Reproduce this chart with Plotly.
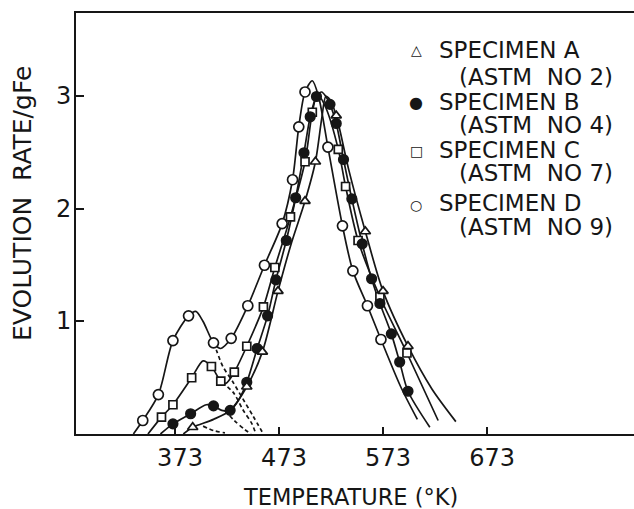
import plotly.graph_objects as go

# ---------------- data (temperature in K, evolution rate per g Fe) ----------------
# Specimen A (ASTM No 2) - open triangles
a_T = [390, 442, 457, 472, 498, 508, 528, 556, 573, 597]
a_rate = [0.06, 0.42, 0.73, 1.27, 2.07, 2.42, 2.83, 1.80, 1.27, 0.78]
a_curve_T = [381, 390, 410, 426, 442, 457, 472, 485, 498, 508, 514, 518, 522, 528, 540, 556, 573, 597, 620, 643]
a_curve_rate = [0.0, 0.06, 0.13, 0.21, 0.42, 0.73, 1.27, 1.70, 2.07, 2.42, 2.80, 3.00, 2.97, 2.83, 2.35, 1.80, 1.27, 0.78, 0.40, 0.11]
a_dash_T = [400, 410, 421]
a_dash_rate = [0.07, 0.03, 0.01]

# Specimen B (ASTM No 4) - filled circles
b_T = [371, 388, 410, 426, 442, 452, 462, 470, 480, 489, 497, 503, 509, 522, 528, 535, 543, 553, 562, 570, 581, 589, 597]
b_rate = [0.09, 0.18, 0.25, 0.21, 0.46, 0.76, 1.05, 1.37, 1.72, 2.10, 2.50, 2.82, 3.00, 2.93, 2.76, 2.44, 2.09, 1.69, 1.38, 1.16, 0.89, 0.64, 0.38]
b_curve_T = [359, 371, 388, 403, 410, 418, 426, 434, 442, 452, 462, 470, 480, 489, 497, 503, 509, 514, 518, 522, 528, 535, 543, 553, 562, 570, 581, 589, 597, 618]
b_curve_rate = [0.0, 0.09, 0.18, 0.26, 0.25, 0.21, 0.21, 0.30, 0.46, 0.76, 1.05, 1.37, 1.72, 2.10, 2.50, 2.82, 3.00, 3.04, 3.00, 2.93, 2.76, 2.44, 2.09, 1.69, 1.38, 1.16, 0.89, 0.64, 0.38, 0.06]
b_dash_T = [421, 430, 440, 446]
b_dash_rate = [0.21, 0.12, 0.04, 0.0]

# Specimen C (ASTM No 7) - open squares
c_T = [360, 371, 389, 408, 417, 430, 442, 458, 469, 484, 498, 505, 530, 537, 549, 570, 596]
c_rate = [0.15, 0.26, 0.50, 0.60, 0.47, 0.55, 0.78, 1.13, 1.48, 1.93, 2.42, 2.86, 2.53, 2.20, 1.72, 1.22, 0.72]
c_curve_T = [347, 360, 371, 389, 400, 408, 417, 422, 430, 442, 458, 469, 484, 498, 505, 510, 518, 530, 537, 549, 570, 596, 626]
c_curve_rate = [0.0, 0.15, 0.26, 0.50, 0.65, 0.60, 0.47, 0.45, 0.55, 0.78, 1.13, 1.48, 1.93, 2.42, 2.86, 3.02, 2.90, 2.53, 2.20, 1.72, 1.22, 0.72, 0.12]
c_dash_T = [418, 429, 438, 447, 450]
c_dash_rate = [0.46, 0.37, 0.22, 0.09, 0.02]

# Specimen D (ASTM No 9) - open circles
d_T = [342, 357, 371, 386, 410, 427, 443, 459, 476, 486, 492, 498, 520, 534, 544, 558, 571]
d_rate = [0.12, 0.35, 0.83, 1.05, 0.81, 0.85, 1.14, 1.50, 1.87, 2.26, 2.73, 3.04, 2.55, 1.85, 1.45, 1.14, 0.84]
d_curve_T = [333, 342, 357, 371, 386, 393, 400, 410, 417, 427, 443, 459, 476, 486, 492, 498, 505, 511, 520, 534, 544, 558, 571, 590, 606]
d_curve_rate = [0.0, 0.12, 0.35, 0.83, 1.05, 1.09, 1.00, 0.81, 0.76, 0.85, 1.14, 1.50, 1.87, 2.26, 2.73, 3.04, 3.14, 3.00, 2.55, 1.85, 1.45, 1.14, 0.84, 0.42, 0.13]
d_dash_T = [410.5, 413.4, 419, 428.8, 438.4, 448, 456.7]
d_dash_rate = [0.81, 0.73, 0.60, 0.46, 0.31, 0.16, 0.02]

x_ticks = [373, 473, 573, 673]
y_ticks = [1, 2, 3]

legend_symbols = ["△", "●", "□", "○"]
legend_names = ["SPECIMEN A", "SPECIMEN B", "SPECIMEN C", "SPECIMEN D"]
legend_astm = ["(ASTM  NO 2)", "(ASTM  NO 4)", "(ASTM  NO 7)", "(ASTM  NO 9)"]

INK = "#161616"
FONT = "DejaVu Sans"

fig = go.Figure()

def add_curve(T, r, dash="solid"):
    fig.add_trace(go.Scatter(x=T, y=r, mode="lines",
                             line=dict(color=INK, width=1.7, shape="spline", smoothing=0.8, dash=dash),
                             hoverinfo="skip", showlegend=False))

for T, r in [(a_curve_T, a_curve_rate), (b_curve_T, b_curve_rate),
             (c_curve_T, c_curve_rate), (d_curve_T, d_curve_rate)]:
    add_curve(T, r)
for T, r in [(a_dash_T, a_dash_rate), (b_dash_T, b_dash_rate),
             (c_dash_T, c_dash_rate), (d_dash_T, d_dash_rate)]:
    add_curve(T, r, dash="4px,3px")

def add_markers(T, r, symbol, size, fill):
    fig.add_trace(go.Scatter(x=T, y=r, mode="markers",
                             marker=dict(symbol=symbol, size=size, color=fill,
                                         line=dict(color=INK, width=1.7)),
                             showlegend=False))

add_markers(d_T, d_rate, "circle", 10, "white")
add_markers(c_T, c_rate, "square", 8, "white")
add_markers(b_T, b_rate, "circle", 9.5, INK)
add_markers(a_T, a_rate, "triangle-up", 9, "white")

# pixel -> paper helpers for text placement
L, R, T0, B0 = 76, 634, 13, 434
def px_x(px):
    return (px - L) / (R - L)
def px_y(py):
    return (B0 - py) / (B0 - T0)

annotations = []
sym_y = [50, 102, 151, 205]
name_y = [50, 102, 150, 203]
astm_y = [77, 125, 173, 227]
sym_sizes = [14, 16, 14, 14]
for i in range(4):
    annotations.append(dict(x=px_x(416), y=px_y(sym_y[i]), xref="paper", yref="paper",
                            text=legend_symbols[i], showarrow=False, xanchor="center", yanchor="middle",
                            font=dict(family=FONT, size=sym_sizes[i], color=INK)))
    annotations.append(dict(x=px_x(437), y=px_y(name_y[i]), xref="paper", yref="paper",
                            text=legend_names[i], showarrow=False, xanchor="left", yanchor="middle",
                            font=dict(family=FONT, size=23, color=INK)))
    annotations.append(dict(x=px_x(457), y=px_y(astm_y[i]), xref="paper", yref="paper",
                            text=legend_astm[i], showarrow=False, xanchor="left", yanchor="middle",
                            font=dict(family=FONT, size=23, color=INK)))

# y tick labels placed close to the axis, as in the original
for v in y_ticks:
    annotations.append(dict(x=px_x(73), y=v, xref="paper", yref="y", text=str(v),
                            showarrow=False, xanchor="right", yanchor="middle",
                            font=dict(family=FONT, size=24, color=INK)))

annotations.append(dict(x=px_x(350), y=px_y(497), xref="paper", yref="paper",
                        text="TEMPERATURE (°K)", showarrow=False, xanchor="center", yanchor="middle",
                        font=dict(family=FONT, size=22.5, color=INK)))
annotations.append(dict(x=px_x(23), y=px_y(204), xref="paper", yref="paper",
                        text="EVOLUTION  RATE/gFe", showarrow=False, textangle=-90,
                        xanchor="center", yanchor="middle",
                        font=dict(family=FONT, size=25, color=INK)))

fig.update_layout(
    width=634, height=509,
    margin=dict(l=L, r=634 - R, t=T0, b=509 - B0),
    plot_bgcolor="white", paper_bgcolor="white",
    showlegend=False,
    font=dict(family=FONT, color=INK),
    annotations=annotations,
    xaxis=dict(range=[277.8, 814.3], tickvals=x_ticks, ticktext=[str(v) for v in x_ticks],
               ticks="inside", ticklen=7, tickwidth=1.5, tickcolor=INK,
               showline=True, linewidth=2, linecolor=INK, mirror=True,
               showgrid=False, zeroline=False, tickfont=dict(size=24, color=INK),
               ticklabelshift=5, ticklabelstandoff=1),
    yaxis=dict(range=[0, 3.742], tickvals=y_ticks, showticklabels=False,
               ticks="inside", ticklen=8, tickwidth=1.5, tickcolor=INK,
               showline=True, linewidth=2, linecolor=INK,
               showgrid=False, zeroline=False),
)

fig.write_html("out.html")
